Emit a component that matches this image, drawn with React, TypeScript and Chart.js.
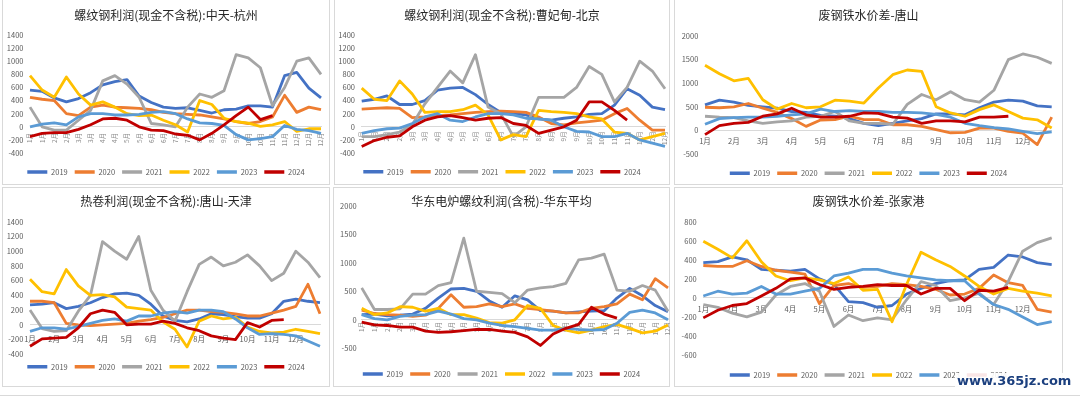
import React, { useEffect, useRef } from 'react';
import { Chart, registerables } from 'chart.js';

Chart.register(...registerables);
Chart.defaults.font.family = "'Noto Sans CJK SC', 'Noto Sans', sans-serif";

const YEARS = ['2019', '2020', '2021', '2022', '2023', '2024'];
const COLORS = ['#4472C4', '#ED7D31', '#A5A5A5', '#FFC000', '#5B9BD5', '#C00000'];
const CATEGORIES = ['1月', '1月', '2月', '2月', '3月', '3月', '4月', '4月', '5月', '5月', '6月', '6月', '7月', '7月', '8月', '8月', '9月', '9月', '10月', '10月', '11月', '11月', '12月', '12月', '12月'];

const TICKS_PROFIT = [-400, -200, 0, 200, 400, 600, 800, 1000, 1200, 1400];
const TICKS_TANGSHAN = [-500, 0, 500, 1000, 1500, 2000];
const TICKS_HUADONG = [-500, 0, 500, 1000, 1500, 2000];
const TICKS_ZJG = [-600, -400, -200, 0, 200, 400, 600, 800];

// 螺纹钢利润(现金不含税):中天-杭州
const HZ_2019 = [560, 540, 440, 380, 430, 520, 640, 690, 720, 470, 370, 300, 280, 290, 250, 210, 260, 270, 320, 320, 300, 780, 830, 590, 440];
const HZ_2020 = [450, 420, 400, 200, 170, 300, 330, 300, 290, 280, 260, 220, 200, 190, 180, 150, 120, 80, 50, 80, 150, 480, 220, 300, 260];
const HZ_2021 = [300, 0, -50, -50, 100, 250, 700, 780, 650, 450, 50, 30, 0, 300, 500, 450, 550, 1100, 1050, 900, 320, 600, 1000, 1050, 800];
const HZ_2022 = [780, 560, 450, 760, 500, 330, 380, 300, 200, 170, 180, 100, 30, -80, 400, 340, 130, 80, 55, 5, 30, 80, -70, -30, -30];
const HZ_2023 = [0, 40, 60, 30, 150, 200, 200, 180, 180, 190, 220, 230, 200, 120, 60, 50, 20, -120, -200, -180, -150, 20, -40, -60, -100];
const HZ_2024 = [-150, -100, -90, -90, -40, 30, 120, 130, 100, 0, -50, -60, -110, -130, -200, -100, 30, 170, 300, 110, 170];

// 螺纹钢利润(现金不含税):曹妃甸-北京
const BJ_2019 = [390, 420, 470, 340, 340, 400, 560, 590, 600, 490, 340, 220, 200, 180, 120, 100, 130, 150, 190, 200, 330, 580, 480, 300, 260];
const BJ_2020 = [270, 280, 290, 280, 140, 150, 170, 180, 200, 220, 230, 240, 230, 220, 150, 50, 30, 60, 80, 100, 200, 280, 100, -50, -50];
const BJ_2021 = [-150, -150, -120, -80, 30, 350, 600, 850, 670, 1100, 300, 200, -150, 0, 450, 450, 450, 600, 920, 800, 380, 600, 1000, 850, 580];
const BJ_2022 = [590, 420, 400, 700, 500, 220, 230, 230, 260, 330, 180, -200, -120, -150, 250, 230, 220, 200, 150, 120, -80, -100, -200, -150, -100];
const BJ_2023 = [-100, -60, -30, -20, 50, 150, 200, 100, 80, 150, 200, 200, 180, 130, 120, 100, 0, -70, -80, -150, -150, -100, -200, -250, -300];
const BJ_2024 = [-300, -210, -160, -140, 0, 100, 150, 170, 140, 100, 130, 140, 50, 20, -100, -50, 0, 100, 380, 380, 250, 100];

// 废钢铁水价差-唐山
const TS_2019 = [540, 640, 600, 530, 500, 470, 400, 380, 320, 300, 250, 150, 100, 150, 200, 250, 350, 350, 330, 480, 600, 640, 620, 520, 500];
const TS_2020 = [490, 480, 500, 570, 470, 380, 250, 85, 220, 230, 300, 230, 230, 120, 120, 85, 15, -50, -40, 50, 50, -20, -60, -300, 280];
const TS_2021 = [300, 280, 270, 200, 150, 180, 200, 280, 300, 400, 200, 150, 150, 130, 550, 760, 650, 820, 650, 600, 850, 1500, 1620, 1550, 1420];
const TS_2022 = [1380, 1200, 1050, 1100, 650, 450, 570, 480, 500, 640, 620, 580, 900, 1180, 1280, 1250, 500, 370, 300, 440, 540, 400, 260, 225, 50];
const TS_2023 = [130, 250, 270, 280, 280, 300, 330, 350, 450, 400, 420, 400, 400, 380, 380, 370, 340, 280, 150, 100, 60, 30, -20, -70, -30];
const TS_2024 = [-90, 100, 150, 170, 300, 350, 470, 330, 280, 280, 300, 370, 360, 280, 260, 150, 200, 200, 180, 280, 280, 300];

// 热卷利润(现金不含税):唐山-天津
const TJ_2019 = [270, 280, 300, 220, 250, 300, 370, 420, 430, 400, 280, 120, 60, 40, 80, 150, 140, 110, 90, 90, 150, 320, 350, 320, 300];
const TJ_2020 = [320, 320, 300, 20, 0, -10, 0, 10, 20, 50, 70, 100, 150, 200, 200, 180, 170, 150, 120, 120, 160, 200, 250, 550, 150];
const TJ_2021 = [200, -50, -90, -80, 185, 400, 1130, 1000, 890, 1200, 470, 200, 50, 450, 820, 920, 800, 850, 950, 800, 600, 700, 1000, 850, 640];
const TJ_2022 = [620, 450, 420, 750, 530, 400, 410, 380, 240, 220, 200, 40, -60, -300, 50, 120, 80, 100, -30, -90, -110, -100, -60, -90, -120];
const TJ_2023 = [-90, -40, -40, -60, -20, 20, 60, 80, 50, 120, 120, 160, 180, 160, 200, 200, 180, 80, -40, -130, -120, -130, -150, -220, -290];
const TJ_2024 = [-290, -190, -180, -170, -40, 150, 200, 170, 0, 10, 10, 50, 20, -40, -80, -150, -180, -200, 30, -30, 60, 70];

// 华东电炉螺纹利润(含税)-华东平均
const HD_2019 = [90, 100, 70, 80, 100, 200, 380, 540, 550, 500, 330, 220, 420, 350, 160, 150, 120, 140, 150, 160, 380, 550, 420, 250, 140];
const HD_2020 = [170, 110, 90, 80, 60, 80, 200, 440, 220, 230, 280, 230, 280, 200, 180, 150, 120, 120, 200, 230, 280, 450, 350, 720, 560];
const HD_2021 = [560, 180, 180, 190, 450, 450, 600, 650, 1430, 500, 480, 460, 300, 520, 560, 580, 640, 1050, 1080, 1150, 520, 500, 600, 520, 150];
const HD_2022 = [200, 90, 120, 230, 220, 150, 200, 90, 90, 30, -50, -60, 0, 250, 200, -100, -180, -230, -180, -120, -80, -150, -230, -200, -90];
const HD_2023 = [90, 20, 0, 60, 80, 90, 150, 100, 20, 0, -60, -100, -120, -150, -180, -180, -150, -170, -180, -170, -60, 130, 170, 120, 0];
const HD_2024 = [-40, -90, -100, -130, -130, -200, -220, -210, -190, -170, -170, -200, -220, -300, -450, -250, -150, -80, 220, 100, 30];

// 废钢铁水价差-张家港
const ZJG_2019 = [370, 380, 430, 400, 300, 290, 280, 300, 200, 140, -40, -50, -100, -80, 40, 100, 150, 180, 190, 300, 320, 450, 430, 370, 350];
const ZJG_2020 = [340, 330, 330, 390, 330, 290, 270, 250, -60, 130, 150, 110, 120, 150, 140, 120, 90, 30, 40, 100, 240, 160, 130, -120, -150];
const ZJG_2021 = [-70, -100, -160, -200, -150, 30, 120, 150, 70, -300, -180, -240, -210, -230, -20, 170, 130, -30, 0, 50, -70, 170, 490, 580, 630];
const ZJG_2022 = [595, 510, 420, 600, 380, 230, 180, 210, 190, 150, 220, 80, 90, -250, 140, 480, 400, 330, 230, 120, 40, 100, 70, 50, 20];
const ZJG_2023 = [20, 70, 40, 50, 120, 40, 40, 70, 100, 230, 260, 300, 300, 260, 230, 210, 190, 180, 180, 40, -70, -120, -200, -280, -250];
const ZJG_2024 = [-210, -130, -80, -60, 20, 100, 200, 210, 140, 90, 110, 120, 140, 130, 130, 40, 100, 100, -30, 80, 70, 110];

type Spec = {
  title: string;
  series: number[][];
  ticks: number[];
  box: { left: number; top: number; w: number; h: number; topRow: boolean };
  plotLeft: number;
  plotRight: number;
  yTopPx: number;
  yBotPx: number;
  titleY: number;
  legendY: number;
  yPad: number;
  xMode: 'rot' | 'month';
  xPad: number;
};

const SPECS: Spec[] = [
  {
    title: '螺纹钢利润(现金不含税):中天-杭州',
    series: [HZ_2019, HZ_2020, HZ_2021, HZ_2022, HZ_2023, HZ_2024],
    ticks: TICKS_PROFIT,
    box: { left: 2, top: 0, w: 328, h: 185, topRow: true },
    plotLeft: 28, plotRight: 319, yTopPx: 35, yBotPx: 153, titleY: 15, legendY: 172, yPad: 6.5, xMode: 'rot', xPad: 6,
  },
  {
    title: '螺纹钢利润(现金不含税):曹妃甸-北京',
    series: [BJ_2019, BJ_2020, BJ_2021, BJ_2022, BJ_2023, BJ_2024],
    ticks: TICKS_PROFIT,
    box: { left: 334, top: 0, w: 336, h: 185, topRow: true },
    plotLeft: 27.7, plotRight: 331, yTopPx: 35, yBotPx: 153, titleY: 15, legendY: 171.7, yPad: 6.7, xMode: 'rot', xPad: 4.5,
  },
  {
    title: '废钢铁水价差-唐山',
    series: [TS_2019, TS_2020, TS_2021, TS_2022, TS_2023, TS_2024],
    ticks: TICKS_TANGSHAN,
    box: { left: 674, top: 0, w: 389, h: 185, topRow: true },
    plotLeft: 31, plotRight: 377.7, yTopPx: 36, yBotPx: 154, titleY: 15, legendY: 173.3, yPad: 6.7, xMode: 'month', xPad: 5.8,
  },
  {
    title: '热卷利润(现金不含税):唐山-天津',
    series: [TJ_2019, TJ_2020, TJ_2021, TJ_2022, TJ_2023, TJ_2024],
    ticks: TICKS_PROFIT,
    box: { left: 2, top: 187, w: 328, h: 200, topRow: false },
    plotLeft: 28, plotRight: 318, yTopPx: 34.7, yBotPx: 167.3, titleY: 14, legendY: 179.7, yPad: 6.7, xMode: 'month', xPad: 10,
  },
  {
    title: '华东电炉螺纹利润(含税)-华东平均',
    series: [HD_2019, HD_2020, HD_2021, HD_2022, HD_2023, HD_2024],
    ticks: TICKS_HUADONG,
    box: { left: 333, top: 187, w: 337, h: 200, topRow: false },
    plotLeft: 28.7, plotRight: 335, yTopPx: 18.7, yBotPx: 161.3, titleY: 14, legendY: 187, yPad: 5, xMode: 'rot', xPad: 2,
  },
  {
    title: '废钢铁水价差-张家港',
    series: [ZJG_2019, ZJG_2020, ZJG_2021, ZJG_2022, ZJG_2023, ZJG_2024],
    ticks: TICKS_ZJG,
    box: { left: 674, top: 187, w: 389, h: 200, topRow: false },
    plotLeft: 29.3, plotRight: 377.7, yTopPx: 34.7, yBotPx: 168, titleY: 14, legendY: 188, yPad: 6.6, xMode: 'month', xPad: 6.5,
  },
];

function ChartPanel({ spec }: { spec: Spec }) {
  const ref = useRef<HTMLCanvasElement>(null);
  const W = spec.box.w;
  const canvasH = Math.max(spec.box.h, Math.ceil(spec.legendY + 15));

  useEffect(() => {
    const fs = 7.5;
    const lp = 7;
    const titleSize = 12;
    const titleLH = titleSize * 1.2;
    const pt = spec.titleY - titleLH / 2;
    const T = Math.min(spec.yTopPx - 3, spec.titleY + titleLH / 2 + 2);
    const pb = T - spec.titleY - titleLH / 2;
    const legendBottom = spec.legendY + fs / 2 + 10;
    const B = spec.legendY - fs / 2 - lp;
    const vMin = spec.ticks[0];
    const vMax = spec.ticks[spec.ticks.length - 1];
    const s = (vMax - vMin) / (spec.yBotPx - spec.yTopPx);
    const yMax = vMax + (spec.yTopPx - T) * s;
    const yMin = vMin - (B - spec.yBotPx) * s;
    const rot = spec.xMode === 'rot';

    const chart = new Chart(ref.current as HTMLCanvasElement, {
      type: 'line',
      data: {
        labels: CATEGORIES,
        datasets: spec.series.map((d, i) => ({
          label: YEARS[i],
          data: d,
          borderColor: COLORS[i],
          backgroundColor: COLORS[i],
          borderWidth: 2.8,
          borderJoinStyle: 'round' as const,
          pointRadius: 0,
          pointHoverRadius: 0,
          tension: 0,
          fill: false,
          order: 5 - i,
          xAxisID: 'x',
          yAxisID: 'y',
        })),
      },
      options: {
        animation: false,
        responsive: false,
        devicePixelRatio: 1,
        events: [],
        layout: { padding: { top: 0, left: 0, right: 0, bottom: canvasH - legendBottom } },
        scales: {
          x: {
            type: 'category',
            position: { y: 0 } as any,
            offset: false,
            grid: { display: false, drawTicks: false },
            border: { display: true, color: '#D9D9D9', width: 1 },
            ticks: {
              autoSkip: false,
              minRotation: rot ? 90 : 0,
              maxRotation: rot ? 90 : 0,
              padding: spec.xPad,
              color: rot ? '#8C8C8C' : '#595959',
              font: { size: rot ? 6.5 : 7.5 },
              callback: (_v: any, idx: number) =>
                rot ? CATEGORIES[idx] : idx % 2 === 0 && idx < 24 ? CATEGORIES[idx] : '',
            },
            afterFit: (sc: any) => {
              sc.paddingLeft = 0;
              sc.paddingRight = 0;
            },
          },
          y: {
            type: 'linear',
            position: 'left',
            min: yMin,
            max: yMax,
            grid: { display: false, drawTicks: false },
            border: { display: false },
            ticks: {
              padding: spec.yPad,
              color: '#595959',
              font: { size: 7.5 },
              callback: (v: any) => String(v),
            },
            afterBuildTicks: (sc: any) => {
              sc.ticks = spec.ticks.map((v) => ({ value: v }));
            },
            afterFit: (sc: any) => {
              sc.width = spec.plotLeft;
              sc.paddingTop = 0;
              sc.paddingBottom = 0;
            },
          },
          yR: {
            type: 'linear',
            position: 'right',
            display: true,
            grid: { display: false, drawTicks: false },
            border: { display: false },
            ticks: { display: false },
            afterFit: (sc: any) => {
              sc.width = W - spec.plotRight;
              sc.paddingTop = 0;
              sc.paddingBottom = 0;
            },
          },
        },
        plugins: {
          title: {
            display: true,
            text: spec.title,
            color: '#262626',
            font: { size: titleSize, weight: 'normal', lineHeight: 1.2 },
            padding: { top: pt, bottom: pb },
          },
          legend: {
            display: true,
            position: 'bottom',
            labels: {
              usePointStyle: true,
              pointStyle: 'line',
              pointStyleWidth: 20,
              boxWidth: 20,
              padding: lp,
              color: '#595959',
              font: { size: fs },
              generateLabels: (c: any) =>
                c.data.datasets.map((ds: any, i: number) => ({
                  text: ds.label,
                  fillStyle: ds.borderColor,
                  strokeStyle: ds.borderColor,
                  fontColor: '#595959',
                  lineWidth: 3.5,
                  lineCap: 'butt',
                  pointStyle: 'line',
                  hidden: false,
                  datasetIndex: i,
                })),
            },
          },
          tooltip: { enabled: false },
        },
      } as any,
    });
    return () => chart.destroy();
  }, [spec]);

  return (
    <>
      <div
        style={{
          position: 'absolute',
          left: spec.box.left,
          top: spec.box.top,
          width: spec.box.w,
          height: spec.box.h,
          boxSizing: 'border-box',
          border: '1px solid #D9D9D9',
          borderTop: spec.box.topRow ? 'none' : '1px solid #D9D9D9',
        }}
      />
      <canvas
        ref={ref}
        width={W}
        height={canvasH}
        style={{ position: 'absolute', left: spec.box.left, top: spec.box.top, width: W, height: canvasH }}
      />
    </>
  );
}

export default function App() {
  return (
    <div
      style={{
        position: 'fixed',
        left: 0,
        top: 0,
        width: 1080,
        height: 397,
        background: '#FFFFFF',
        overflow: 'hidden',
      }}
    >
      {SPECS.map((s, i) => (
        <ChartPanel key={i} spec={s} />
      ))}
      <div style={{ position: 'absolute', left: 0, top: 395, width: 1080, height: 1, background: '#D9D9D9' }} />
      <div
        style={{
          position: 'absolute',
          left: 955,
          top: 373,
          padding: '0 2px',
          background: 'rgba(255,255,255,0.9)',
          color: '#1B3F7E',
          fontFamily: "'DejaVu Sans', sans-serif",
          fontWeight: 'bold',
          fontSize: 13,
          lineHeight: '15px',
        }}
      >
        www.365jz.com
      </div>
    </div>
  );
}
